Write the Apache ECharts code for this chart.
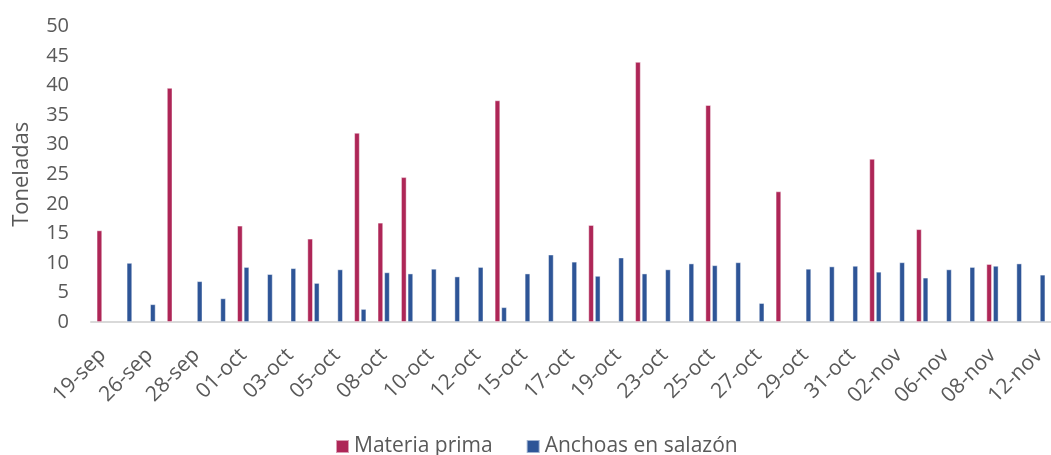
<!DOCTYPE html>
<html>
<head>
<meta charset="utf-8">
<script src="https://cdn.jsdelivr.net/npm/echarts@6/dist/echarts.min.js"></script>
<style>
  html, body { margin: 0; padding: 0; background: #ffffff; }
  #chart { width: 1051px; height: 455px; }
</style>
</head>
<body>
<div id="chart"></div>
<script>
// Daily tonnage, 19 Sept – 12 Nov
const categories = [
  '19-sep', '25-sep', '26-sep', '27-sep', '28-sep', '30-sep', '01-oct', '02-oct', '03-oct', '04-oct',
  '05-oct', '07-oct', '08-oct', '09-oct', '10-oct', '11-oct', '12-oct', '14-oct', '15-oct', '16-oct',
  '17-oct', '18-oct', '19-oct', '22-oct', '23-oct', '24-oct', '25-oct', '26-oct', '27-oct', '28-oct',
  '29-oct', '30-oct', '31-oct', '01-nov', '02-nov', '05-nov', '06-nov', '07-nov', '08-nov', '09-nov',
  '12-nov'
];

const materiaPrima = [
  15.5, null, null, 39.6, null, null, 16.3, null, null, 14.1,
  null, 32.0, 16.8, 24.5, null, null, null, 37.5, null, null,
  null, 16.4, null, 44.0, null, null, 36.7, null, null, 22.1,
  null, null, null, 27.6, null, 15.7, null, null, 9.8, null,
  null
];

const anchoasSalazon = [
  null, 10.0, 3.0, null, 6.9, 4.0, 9.3, 8.1, 9.1, 6.6,
  8.9, 2.2, 8.4, 8.2, 9.0, 7.7, 9.3, 2.5, 8.2, 11.4,
  10.2, 7.8, 10.9, 8.2, 8.9, 9.9, 9.6, 10.1, 3.2, null,
  9.0, 9.4, 9.5, 8.5, 10.1, 7.5, 8.9, 9.3, 9.5, 9.9,
  8.0
];

const yTicks = { min: 0, max: 50, interval: 5 };

const FONT = '"Open Sans", Lato, sans-serif';
const TEXT = '#595959';
const RED = '#AE2657';
const BLUE = '#2E5597';

const chart = echarts.init(document.getElementById('chart'), null, { renderer: 'canvas' });

const barStyle = color => ({
  color: color,
  borderColor: 'rgba(255,255,255,0.55)',
  borderWidth: 0.8
});

chart.setOption({
  animation: false,
  backgroundColor: '#ffffff',
  textStyle: { fontFamily: FONT },
  grid: { left: 91, right: -6, top: 26.5, bottom: 133, containLabel: false },
  legend: {
    top: 431,
    left: 330,
    icon: 'rect',
    itemWidth: 13,
    itemHeight: 13,
    itemGap: 33,
    textStyle: { fontFamily: FONT, fontSize: 21, color: TEXT },
    data: ['Materia prima', 'Anchoas en salazón']
  },
  xAxis: {
    type: 'category',
    data: categories,
    axisLine: { lineStyle: { color: '#D9D9D9', width: 2 } },
    axisTick: { show: false },
    axisLabel: {
      interval: 1,
      rotate: 45,
      margin: 30,
      fontFamily: FONT,
      fontSize: 21,
      color: TEXT
    }
  },
  yAxis: {
    type: 'value',
    min: yTicks.min,
    max: yTicks.max,
    interval: yTicks.interval,
    name: 'Toneladas',
    nameLocation: 'middle',
    nameGap: 58,
    nameTextStyle: { fontFamily: FONT, fontSize: 22, color: TEXT },
    axisLine: { show: false },
    axisTick: { show: false },
    splitLine: { show: false },
    axisLabel: { margin: 22, fontFamily: FONT, fontSize: 20, color: TEXT }
  },
  series: [
    {
      name: 'Materia prima',
      type: 'bar',
      data: materiaPrima,
      barWidth: 5.5,
      barGap: '20%',
      itemStyle: barStyle(RED)
    },
    {
      name: 'Anchoas en salazón',
      type: 'bar',
      data: anchoasSalazon,
      barWidth: 5.5,
      barGap: '20%',
      itemStyle: barStyle(BLUE)
    }
  ]
});
</script>
</body>
</html>
